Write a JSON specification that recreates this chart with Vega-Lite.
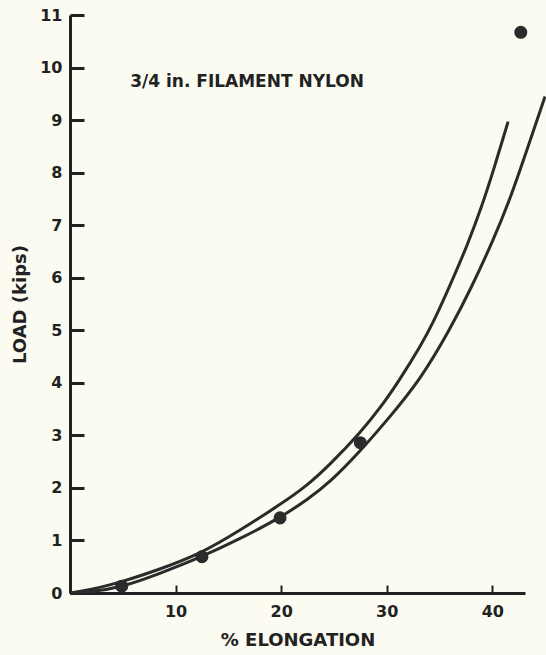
{
  "$schema": "https://vega.github.io/schema/vega-lite/v6.json",
  "autosize": "none",
  "width": 455,
  "height": 578,
  "padding": {"left": 70, "top": 15, "right": 21, "bottom": 62},
  "background": "#fcfbf1",
  "config": {
    "view": {"stroke": null},
    "font": "DejaVu Sans"
  },
  "datasets": {
    "curves": [
      {"curve": "upper", "x": 0, "y": 0},
      {"curve": "upper", "x": 2, "y": 0.06},
      {"curve": "upper", "x": 4.9, "y": 0.21},
      {"curve": "upper", "x": 8.5, "y": 0.45},
      {"curve": "upper", "x": 12.5, "y": 0.76},
      {"curve": "upper", "x": 16, "y": 1.18},
      {"curve": "upper", "x": 19.9, "y": 1.68},
      {"curve": "upper", "x": 22.5, "y": 2.05},
      {"curve": "upper", "x": 24.6, "y": 2.44},
      {"curve": "upper", "x": 27.5, "y": 3.05},
      {"curve": "upper", "x": 29.5, "y": 3.55},
      {"curve": "upper", "x": 31.3, "y": 4.08},
      {"curve": "upper", "x": 33.2, "y": 4.7},
      {"curve": "upper", "x": 34.3, "y": 5.1},
      {"curve": "upper", "x": 36, "y": 5.85},
      {"curve": "upper", "x": 37.7, "y": 6.65},
      {"curve": "upper", "x": 39, "y": 7.35},
      {"curve": "upper", "x": 40.2, "y": 8.1},
      {"curve": "upper", "x": 41.5, "y": 8.97},
      {"curve": "lower", "x": 0, "y": 0},
      {"curve": "lower", "x": 2, "y": 0.02},
      {"curve": "lower", "x": 4.9, "y": 0.11},
      {"curve": "lower", "x": 8.5, "y": 0.37},
      {"curve": "lower", "x": 12.5, "y": 0.69},
      {"curve": "lower", "x": 16, "y": 1.02},
      {"curve": "lower", "x": 19.9, "y": 1.43},
      {"curve": "lower", "x": 22.5, "y": 1.78},
      {"curve": "lower", "x": 24.6, "y": 2.1},
      {"curve": "lower", "x": 27.5, "y": 2.7},
      {"curve": "lower", "x": 30, "y": 3.28},
      {"curve": "lower", "x": 33.2, "y": 4.06},
      {"curve": "lower", "x": 36, "y": 5.02},
      {"curve": "lower", "x": 38, "y": 5.8},
      {"curve": "lower", "x": 40.1, "y": 6.72},
      {"curve": "lower", "x": 41.7, "y": 7.5},
      {"curve": "lower", "x": 43.4, "y": 8.5},
      {"curve": "lower", "x": 45, "y": 9.45}
    ],
    "points": [
      {"x": 4.9, "y": 0.13},
      {"x": 12.5, "y": 0.69},
      {"x": 19.9, "y": 1.43},
      {"x": 27.5, "y": 2.86},
      {"x": 42.7, "y": 10.67}
    ],
    "label": [
      {"x": 5.7, "y": 9.72, "text": "3/4 in. FILAMENT NYLON"}
    ]
  },
  "layer": [
    {
      "data": {"name": "curves"},
      "mark": {"type": "line", "clip": false, "color": "#2b2b2b", "strokeWidth": 3, "interpolate": "basis"},
      "encoding": {
        "x": {
          "field": "x", "type": "quantitative",
          "scale": {"domain": [0, 43.1], "nice": false, "zero": true},
          "axis": {
            "title": "% ELONGATION",
            "values": [0, 10, 20, 30, 40],
            "labelExpr": "datum.value == 0 ? '' : datum.label",
            "grid": false,
            "domainColor": "#222", "domainWidth": 3,
            "tickColor": "#222", "tickWidth": 2, "tickSize": -8,
            "labelFont": "DejaVu Sans", "labelFontWeight": "bold", "labelFontSize": 16, "labelColor": "#222",
            "labelPadding": 18,
            "titleFont": "DejaVu Sans", "titleFontWeight": "bold", "titleFontSize": 18, "titleColor": "#222",
            "titlePadding": 12
          }
        },
        "y": {
          "field": "y", "type": "quantitative",
          "scale": {"domain": [0, 11], "nice": false},
          "axis": {
            "title": "LOAD (kips)",
            "values": [0, 1, 2, 3, 4, 5, 6, 7, 8, 9, 10, 11],
            "grid": false,
            "domainColor": "#222", "domainWidth": 3,
            "tickColor": "#222", "tickWidth": 3, "tickSize": -14,
            "labelFont": "DejaVu Sans", "labelFontWeight": "bold", "labelFontSize": 16, "labelColor": "#222",
            "labelPadding": 22,
            "titleFont": "DejaVu Sans", "titleFontWeight": "bold", "titleFontSize": 18, "titleColor": "#222",
            "titlePadding": 10
          }
        },
        "detail": {"field": "curve", "type": "nominal"}
      }
    },
    {
      "data": {"name": "points"},
      "mark": {"type": "circle", "size": 170, "opacity": 1, "color": "#2b2b2b"},
      "encoding": {
        "x": {"field": "x", "type": "quantitative"},
        "y": {"field": "y", "type": "quantitative"}
      }
    },
    {
      "data": {"name": "label"},
      "mark": {"type": "text", "align": "left", "baseline": "middle", "font": "DejaVu Sans", "fontWeight": "bold", "fontSize": 17, "color": "#222"},
      "encoding": {
        "x": {"field": "x", "type": "quantitative"},
        "y": {"field": "y", "type": "quantitative"},
        "text": {"field": "text"}
      }
    }
  ]
}
